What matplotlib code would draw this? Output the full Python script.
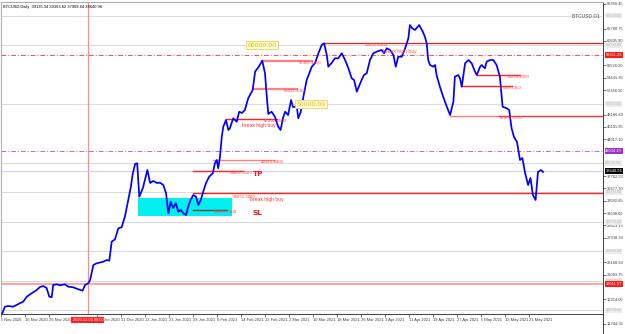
import matplotlib
matplotlib.use("Agg")
import matplotlib.pyplot as plt
from matplotlib.patches import Rectangle
from matplotlib import font_manager as fm

# ---------------- data ----------------
bars = [0.2, 1.3, 2.4, 4.1, 5.8, 7.4, 8.6, 10.2, 11.9, 13.0, 14.1, 15.2, 16.1, 16.9, 17.4, 18.6,
        19.7, 21.3, 22.4, 24.1, 25.8, 27.2, 28.0, 29.1, 29.7, 30.8, 31.9, 34.1, 35.2, 36.1, 36.9,
        38.0, 39.1, 40.2, 41.3, 42.4, 43.3, 43.9, 44.7, 45.4, 46.1, 47.3, 48.8, 49.7, 50.7, 52.0,
        53.0, 54.1, 55.0, 55.8, 56.6, 57.4, 58.3, 59.1, 59.9, 60.8, 61.7, 62.4, 63.2, 64.1, 65.0,
        65.8, 66.6, 67.4, 68.3, 69.4, 70.6, 71.3, 71.9, 72.4, 73.0, 73.6, 74.1, 75.0, 75.8, 76.3,
        77.4, 78.6, 79.4, 80.3, 81.3, 82.4, 83.9, 84.7, 85.8, 87.1, 88.0, 88.6, 89.1, 90.2, 91.3,
        92.4, 93.2, 94.0, 94.7, 95.7, 96.7, 97.3, 98.6, 99.1, 99.9, 100.8, 101.9, 103.6, 104.7,
        105.8, 106.9, 107.7, 108.6, 109.1, 110.2, 111.3, 112.4, 113.6, 114.7, 115.8, 116.9, 117.7,
        118.6, 119.3, 120.2, 121.0, 121.9, 123.0, 124.1, 125.2, 126.9, 127.7, 128.6, 129.7, 130.8,
        131.6, 132.4, 133.6, 134.7, 135.8, 136.3, 137.0, 138.0, 139.4, 140.6, 141.3, 141.9, 142.4,
        143.0, 144.1, 144.7, 145.2, 146.3, 147.4, 148.6, 149.7, 150.8, 151.3, 152.4, 153.0, 153.6,
        154.7, 155.8, 156.9, 158.0, 158.6, 159.7, 160.2, 161.3, 161.9, 163.0, 164.1, 165.2, 166.3,
        167.2, 168.6, 169.4, 170.2, 171.0, 172.0, 173.0, 173.8, 174.7, 175.7, 176.5, 177.3, 178.2,
        179.0, 180.0, 180.7]
prices = [14235, 15642, 15761, 15642, 16100, 16490, 17343, 17914, 18473, 18982, 19151, 18812, 17343,
          17244, 19321, 19440, 19270, 19440, 19032, 18930, 18590, 18353, 19321, 19609, 20168, 22711,
          22999, 23270, 23558, 23440, 26660, 27065, 28930, 29100, 30897, 33728, 35983, 38135, 39830,
          39949, 34287, 35762, 38813, 36609, 36950, 36609, 36660, 36270, 34915, 31474, 33440, 32372,
          33168, 31745, 32033, 31474, 31186, 32591, 33728, 34575, 34287, 32880, 33728, 35135, 36559,
          37678, 38252, 39949, 40508, 39101, 41067, 44457, 46152, 47288, 45593, 45880, 47575, 46999,
          48694, 48474, 48983, 50966, 52373, 55475, 56221, 57339, 55203, 51237, 48305, 48694, 47846,
          46152, 45593, 47627, 48694, 48135, 50678, 49491, 49542, 47575, 48644, 51237, 54068, 56323,
          56950, 58594, 60000, 60288, 58305, 56323, 56950, 57746, 57746, 58594, 57458, 56051, 54356,
          54068, 52085, 52932, 54068, 54916, 55203, 57458, 58594, 58865, 59153, 58594, 59441, 59153,
          58305, 56323, 58018, 58018, 59441, 61136, 63390, 62882, 62543, 63390, 62255, 61407, 60289,
          57458, 56610, 56323, 56610, 54915, 52932, 51237, 49542, 48135, 50390, 54627, 54915, 54356,
          52932, 56898, 57458, 56898, 55475, 54915, 56323, 56610, 56051, 57170, 57458, 57458, 56610,
          54627, 49542, 49271, 48983, 45881, 44406, 43559, 40508, 40847, 38305, 36270, 37457, 34576,
          33728, 38474, 38813, 38474]

date_tick_bars = [0, 8, 16, 32, 40, 48, 56, 64, 72, 80, 88, 96, 104, 112, 120, 128, 136, 144,
                  152, 160, 168, 176]
date_tick_labels = ["5 Nov 2020", "16 Nov 2020", "26 Nov 2020", "23 Dec 2020", "31 Dec 2020",
                    "13 Jan 2021", "21 Jan 2021", "29 Jan 2021", "6 Feb 2021", "14 Feb 2021",
                    "22 Feb 2021", "2 Mar 2021", "10 Mar 2021", "18 Mar 2021", "26 Mar 2021",
                    "3 Apr 2021", "11 Apr 2021", "19 Apr 2021", "27 Apr 2021", "5 May 2021",
                    "13 May 2021", "21 May 2021"]
# visible price-scale labels (those hidden under marker boxes are omitted)
price_ticks = [66950.45, 62780.75, 60695.90, 56526.20, 54441.35, 52356.50,
               48186.80, 46101.95, 44017.10, 37762.55, 35677.70,
               33592.85, 31508.00, 29423.15, 27338.30, 23168.60, 21083.75,
               16914.05, 12744.35]
round_levels = [65000, 60000, 50000, 40000, 35000, 30000, 25000, 20000, 15000]
cross_bar = 29
cross_label = "2020.12.03 00:00"
last_price = 38640.96
header = "BTCUSD,Daily  39135.34 39363.62 37909.84 38640.96"

# horizontal levels drawn on the chart
ath_level = 60289          # from bar 108 to right edge
break_dash_level = 58305   # full width dash-dot
purple_level = 42034       # full width dash-dot
support_level = 19490      # full width
seg_levels = [  # (start bar, end bar, price, label)
    (87.0, 103.7, 57289, "57307.4000"),
    (84.0, 98.7, 52542, "52521.4300"),
    (75.0, 92.0, 47405, "47392.4500"),
    (70.7, 91.3, 40508, "40323.4400"),
    (64.0, 80.7, 38694, "38622.3500"),
    (64.0, 75.3, 32033, "31676.7100"),
    (158.7, 173.0, 54915, "53274.2000"),
    (153.3, 170.3, 53051, "52549.7300"),
]
buy_level = 34864          # from bar 64 to right edge
sell_level = 47966         # from bar 149.7 to right edge
zone_bars = (45.8, 76.9)
zone_prices = (31068, 34016)

# ---------------- figure ----------------
W, H = 625, 334
fig = plt.figure(figsize=(W / 100, H / 100), dpi=100)
fig.patch.set_facecolor("white")

names = {f.name for f in fm.fontManager.ttflist}
NARROW = "Liberation Sans Narrow" if "Liberation Sans Narrow" in names else "Liberation Sans"
AXFS = 3.3 if NARROW == "Liberation Sans Narrow" else 2.85


def rect(x0, y0, x1, y1):
    return [x0 / W, 1 - y1 / H, (x1 - x0) / W, (y1 - y0) / H]


axp = fig.add_axes(rect(1, 2, 603, 333))
ax = fig.add_axes(rect(1, 2, 603, 314))

XMAX = 200.67
ax.set_xlim(0, XMAX)
ax.set_ylim(14405, 67289)
axp.set_xlim(0, XMAX)
axp.set_ylim(11185, 67289)

# price scale axis
axp.patch.set_visible(False)
for s in ["top", "left", "bottom"]:
    axp.spines[s].set_visible(False)
axp.spines["right"].set_color("#404040")
axp.spines["right"].set_linewidth(0.7)
axp.set_xticks([])
axp.yaxis.tick_right()
axp.set_yticks(price_ticks)
axp.set_yticklabels([f"{v:.2f}" for v in price_ticks])
axp.tick_params(axis="y", direction="out", length=1.8, width=0.5, pad=0.8, labelsize=AXFS,
                colors="#404040")
for t in axp.get_yticklabels():
    t.set_family(NARROW)

# main axis frame
for s in ["top", "left"]:
    ax.spines[s].set_color("#b0b0b0")
    ax.spines[s].set_linewidth(0.8)
ax.spines["bottom"].set_color("#404040")
ax.spines["bottom"].set_linewidth(0.7)
ax.spines["right"].set_visible(False)
ax.set_yticks([])
ax.set_xticks(date_tick_bars)
ax.set_xticklabels(date_tick_labels, ha="left")
ax.tick_params(axis="x", direction="out", length=2, width=0.5, pad=1.2, labelsize=AXFS,
               colors="#404040")
for t in ax.get_xticklabels():
    t.set_family(NARROW)

# round-number grid levels
for lv in round_levels:
    ax.axhline(lv, color="#dcdcdc", lw=0.8, zorder=1)

# full width lines
ax.axvline(cross_bar, color="#ff8c8c", lw=0.9, zorder=2)
ax.axhline(support_level, color="#ff9a9a", lw=1.3, zorder=2)
ax.axhline(last_price, color="#d0d0ff", lw=0.8, zorder=2)
ax.axhline(break_dash_level, color="#ff5050", lw=0.7, dashes=(5, 2, 1, 2), zorder=2)
ax.axhline(purple_level, color="#b070e0", lw=0.7, dashes=(5, 2, 1, 2), zorder=2)

# demand zone
ax.add_patch(Rectangle((zone_bars[0], zone_prices[0]), zone_bars[1] - zone_bars[0],
                       zone_prices[1] - zone_prices[0], facecolor="#00f0f0",
                       edgecolor="none", zorder=2))

red_txt = dict(color="#ff4040", fontsize=3.2, family=NARROW, va="center", ha="left", zorder=6)

# ATH line
ax.plot([108, XMAX], [ath_level, ath_level], color="#e82020", lw=0.9, zorder=3)
ax.text(121.3, 59950, "59831.6500", **red_txt)
ax.text(127.3, 58850, "break high buy", color="#ff5050", fontsize=3.6, family="Liberation Sans",
        va="center", ha="left", zorder=6)

# partial levels
for i, (b0, b1, p, lab) in enumerate(seg_levels):
    col = "#ff8080" if i in (0, 1, 3) else ("#8b3a3a" if i == 5 else "#ff2020")
    lw = 1.6 if i in (0, 1) else 1.0
    ax.plot([b0, b1], [p, p], color=col, lw=lw, zorder=3)
    ax.text(b1 - 4.5, p - 330, lab, **red_txt)

ax.plot([64, XMAX], [buy_level, buy_level], color="#ff2020", lw=1.0, zorder=3)
ax.text(77.3, buy_level - 570, "34872.3800", **red_txt)
ax.text(83.0, 33728, "break high buy", color="#ff3030", fontsize=3.6, family="Liberation Sans",
        va="center", ha="left", zorder=6)
ax.plot([149.7, 166], [sell_level, sell_level], color="#ff8080", lw=1.0, zorder=3)
ax.plot([166, XMAX], [sell_level, sell_level], color="#ff3030", lw=1.0, zorder=3)
ax.text(166.3, sell_level - 330, "47893.3700", **red_txt)
ax.text(80.3, 46440, "break high buy", color="#ff3030", fontsize=3.6, family="Liberation Sans",
        va="center", ha="left", zorder=6)

ax.text(84.0, 38135, "TP", color="#ff1010", fontsize=5.3, fontweight="bold", va="center",
        ha="left", zorder=6)
ax.text(83.7, 31525, "SL", color="#ff1010", fontsize=5.3, fontweight="bold", va="center",
        ha="left", zorder=6)

# yellow price labels
ybox = dict(boxstyle="square,pad=0.25", facecolor="#fffbd8", edgecolor="#f2d24a", lw=0.6)
ax.text(87.0, 60000, "60000.00", color="#e8b800", fontsize=4.5, ha="center", va="center",
        bbox=ybox, zorder=7)
ax.text(103.3, 50000, "50000.00", color="#e8b800", fontsize=4.5, ha="center", va="center",
        bbox=ybox, zorder=7)

# price line
ax.plot(bars, prices, color="#0000ff", lw=1.25, zorder=5, solid_joinstyle="round")

# header texts
ax.text(0.004, 0.99, header, transform=ax.transAxes, fontsize=AXFS, family=NARROW,
        va="top", ha="left", color="#000000", zorder=8)
ax.text(0.995, 0.955, "BTCUSD D1", transform=ax.transAxes, fontsize=3.5,
        family="Liberation Sans", va="center", ha="right", color="#505050", zorder=8)

# crosshair time label
ax.text(cross_bar, -0.019, cross_label, transform=ax.get_xaxis_transform(), color="white",
        fontsize=AXFS, family=NARROW, ha="center", va="center", zorder=10, clip_on=False,
        bbox=dict(boxstyle="square,pad=0.3", facecolor="#ff2020", edgecolor="none"))

# price scale marker boxes
ytr = axp.get_yaxis_transform()
for lv in round_levels:
    axp.text(1.004, lv, f"{lv:.2f}", transform=ytr, color="#b8b8b8", fontsize=AXFS,
             family=NARROW, ha="left", va="center", clip_on=False, zorder=9,
             bbox=dict(boxstyle="square,pad=0.2", facecolor="#ececec", edgecolor="none"))
markers = [(break_dash_level, "58311.22", "#ff1a1a"), (purple_level, "42034.19", "#9932cc"),
           (last_price, "38640.96", "#000000"), (support_level, "19511.57", "#ff1a1a")]
for p, lab, c in markers:
    axp.text(1.004, p, lab, transform=ytr, color="white", fontsize=AXFS, family=NARROW,
             ha="left", va="center", clip_on=False, zorder=10,
             bbox=dict(boxstyle="square,pad=0.2", facecolor=c, edgecolor="none"))

fig.savefig("out.png", dpi=100, facecolor="white")
